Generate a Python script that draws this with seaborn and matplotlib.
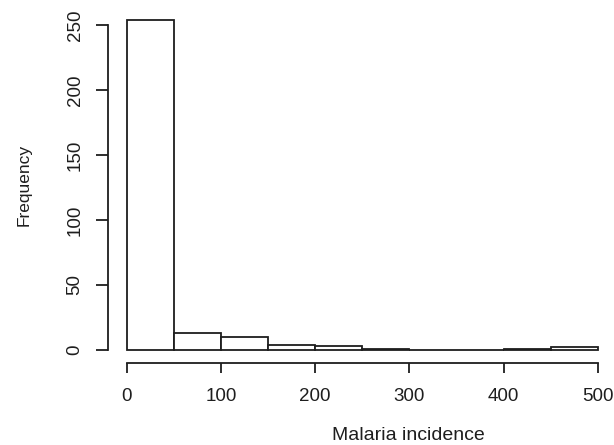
import matplotlib
matplotlib.use("Agg")
import matplotlib.pyplot as plt
import seaborn as sns
import pandas as pd
import numpy as np

bin_edges = [0, 50, 100, 150, 200, 250, 300, 350, 400, 450, 500]
bin_mids = [25, 75, 125, 175, 225, 275, 325, 375, 425, 475]
counts = [254, 13, 10, 4, 3, 1, 0, 0, 1, 2]
x_ticks = [0, 100, 200, 300, 400, 500]
y_ticks = [0, 50, 100, 150, 200, 250]

sns.set_theme(style="white")
plt.rcParams['font.family'] = ['Liberation Sans', 'DejaVu Sans']

df = pd.DataFrame({"mid": bin_mids, "count": counts})

fig = plt.figure(figsize=(6.14, 4.45), dpi=100)
W, H = 614, 445
left_px, right_px = 107.9, 616.8
top_px, bot_px = 6.6, 363.2
ax = fig.add_axes([left_px / W, (H - bot_px) / H, (right_px - left_px) / W, (bot_px - top_px) / H])

sns.histplot(data=df, x="mid", weights="count", bins=bin_edges, ax=ax,
             color="white", edgecolor="#1e1e1e", linewidth=1.3, alpha=1.0)

ax.set_xlim(-20, 520)
ax.set_ylim(-10.16, 264.16)
ax.set_facecolor("white")

for s in ["top", "right"]:
    ax.spines[s].set_visible(False)
ax.spines["left"].set_bounds(0, 250)
ax.spines["bottom"].set_bounds(0, 500)
for s in ["left", "bottom"]:
    ax.spines[s].set_color("#1e1e1e")
    ax.spines[s].set_linewidth(1.3)

ax.set_xticks(x_ticks)
ax.set_yticks(y_ticks)
ax.set_xticklabels([str(v) for v in x_ticks], fontsize=13.5, color="#1e1e1e")
ax.set_yticklabels([str(v) for v in y_ticks], fontsize=13.5, color="#1e1e1e",
                   rotation=90, va="center")
ax.tick_params(axis="x", direction="out", length=7.5, width=1.3, color="#1e1e1e", pad=10.5, bottom=True)
ax.tick_params(axis="y", direction="out", length=9, width=1.3, color="#1e1e1e", pad=8.5, left=True)

ax.set_xlabel("Malaria incidence", fontsize=14, color="#1e1e1e", labelpad=18)
ax.xaxis.set_label_coords((408 - left_px) / (right_px - left_px), -(435 - bot_px) / (bot_px - top_px))
ax.xaxis.label.set_va("center")
ax.set_ylabel("Frequency", fontsize=12.5, color="#1e1e1e")
ax.yaxis.set_label_coords(-(left_px - 24) / (right_px - left_px), 0.5)
ax.yaxis.label.set_va("center")
ax.grid(False)

fig.savefig("out.png", dpi=100, facecolor="white")
